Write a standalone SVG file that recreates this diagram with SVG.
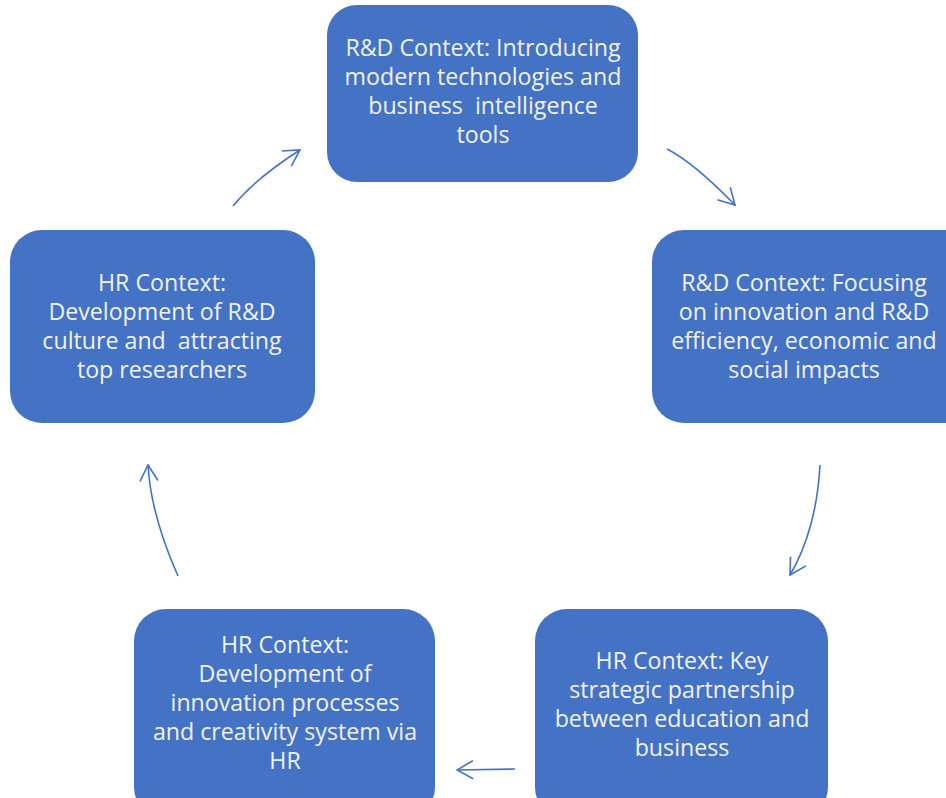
<svg xmlns="http://www.w3.org/2000/svg" width="946" height="798" viewBox="0 0 946 798">
<style>
.box{fill:#4472C4;}
.t{font-family:"Open Sans","Liberation Sans",sans-serif;font-size:23.2px;fill:#F2F2F2;text-anchor:middle;white-space:pre;}
.c{fill:none;stroke:#4472C4;stroke-width:1.6;marker-end:url(#ah);}
</style>
<defs>
<marker id="ah" viewBox="0 0 20 20" refX="19" refY="10" markerWidth="20" markerHeight="20" markerUnits="userSpaceOnUse" orient="auto">
<path d="M3,1 L19,10 L3,19" fill="none" stroke="#4472C4" stroke-width="1.6"/>
</marker>
</defs>
<rect width="946" height="798" fill="#FFFFFF"/>
<g id="n1">
<rect class="box" x="327" y="5" width="311" height="177" rx="30"/>
<text class="t" x="483" y="56">R&amp;D Context: Introducing</text>
<text class="t" x="483" y="85">modern technologies and</text>
<text class="t" x="483" y="114" xml:space="preserve">business  intelligence</text>
<text class="t" x="483" y="143">tools</text>
</g>
<g id="n2">
<rect class="box" x="652" y="230" width="330" height="193" rx="32"/>
<text class="t" x="804" y="291">R&amp;D Context: Focusing</text>
<text class="t" x="804" y="320">on innovation and R&amp;D</text>
<text class="t" x="804" y="349">efficiency, economic and</text>
<text class="t" x="804" y="378">social impacts</text>
</g>
<g id="n3">
<rect class="box" x="535" y="609" width="293" height="210" rx="32"/>
<text class="t" x="682" y="669">HR Context: Key</text>
<text class="t" x="682" y="698">strategic partnership</text>
<text class="t" x="682" y="727">between education and</text>
<text class="t" x="682" y="756">business</text>
</g>
<g id="n4">
<rect class="box" x="134" y="609" width="301" height="210" rx="32"/>
<text class="t" x="285" y="653">HR Context:</text>
<text class="t" x="285" y="682">Development of</text>
<text class="t" x="285" y="711">innovation processes</text>
<text class="t" x="285" y="740">and creativity system via</text>
<text class="t" x="285" y="769">HR</text>
</g>
<g id="n5">
<rect class="box" x="10" y="230" width="305" height="193" rx="32"/>
<text class="t" x="162" y="291">HR Context:</text>
<text class="t" x="162" y="320">Development of R&amp;D</text>
<text class="t" x="162" y="349" xml:space="preserve">culture and  attracting</text>
<text class="t" x="162" y="378">top researchers</text>
</g>
<g id="connectors">
<path class="c" d="M233,206 Q256,178 300,150"/>
<path class="c" d="M667,149 Q693,162 735,205"/>
<path class="c" d="M820,465 C818,505 808,545 790,575"/>
<path class="c" d="M178,576 C162,540 150,500 148,465"/>
<path class="c" d="M515,769 L457,770"/>
</g>
</svg>
